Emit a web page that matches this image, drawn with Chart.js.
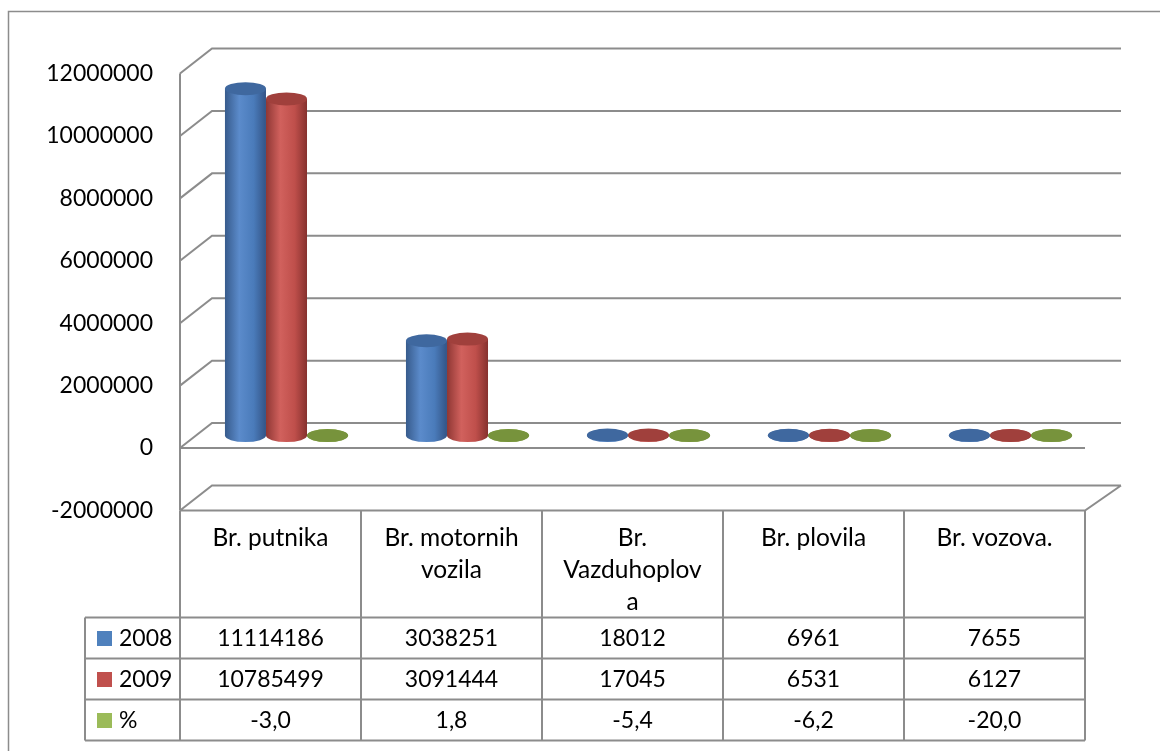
<!DOCTYPE html>
<html lang="sr">
<head>
<meta charset="UTF-8">
<title>Promet 2008 - 2009</title>
<script src="https://cdn.jsdelivr.net/npm/chart.js@4.4.3/dist/chart.umd.min.js"></script>
<style>
  html, body { margin: 0; padding: 0; background: #fff; }
  #wrap { width: 1160px; height: 751px; }
</style>
</head>
<body>
<div id="wrap"><canvas id="promet"></canvas></div>
<script>
// podaci
const kategorije = [['Br. putnika'], ['Br. motornih', 'vozila'], ['Br.', 'Vazduhoplov', 'a'], ['Br. plovila'], ['Br. vozova.']];
const serije = ['2008', '2009', '%'];
const god2008 = [11114186, 3038251, 18012, 6961, 7655];
const god2009 = [10785499, 3091444, 17045, 6531, 6127];
const procenat = [-3.0, 1.8, -5.4, -6.2, -20.0];
const yMin = -2000000, yMax = 12000000, yKorak = 2000000;

const boje = ['#4F81BD', '#C0504D', '#9BBB59'];
const bojeVrh = ['#3f689f', '#a0403c', '#77933c'];
const senke = [
  ['#375b8c', '#5b8bcb', '#4a7bba', '#335486'],
  ['#8f3734', '#d1615d', '#bf4f4b', '#86312e'],
  ['#6f8a36', '#aac96a', '#9bbb59', '#6a8533']
];
const SIVA = '#8c8c8c';
const DX = 16, DY = 12.5, RY = 6.5;
const FONT = '23px Lato';
const FONT_ZAGLAVLJE = '24.5px Lato';

function fmtPct(v) { return v.toFixed(1).replace('.', ','); }

function gradijent(ctx, el, i) {
  const g = ctx.createLinearGradient(el.x - el.width / 2, 0, el.x + el.width / 2, 0);
  const s = senke[i];
  g.addColorStop(0, s[0]);
  g.addColorStop(0.35, s[1]);
  g.addColorStop(0.7, s[2]);
  g.addColorStop(1, s[3]);
  return g;
}

// zidovi, valjci i tabela sa podacima
const prostor = {
  id: 'prostor',
  beforeDraw(chart) {
    const c = chart.ctx;
    c.save();
    c.fillStyle = '#fff';
    c.fillRect(0, 0, chart.width, chart.height);
    c.strokeStyle = SIVA;
    c.lineWidth = 1.5;
    c.strokeRect(8.5, 11.5, chart.width + 20, chart.height + 20);
    c.restore();
  },
  beforeDatasetsDraw(chart) {
    const { chartArea: a, scales: { x, y } } = chart;
    const c = chart.ctx;
    const fl = a.left - DX, bl = a.left + DX, fr = a.right - DX, br = a.right + DX + 4;
    c.save();
    c.strokeStyle = SIVA;
    c.lineWidth = 2;
    c.beginPath();
    y.ticks.forEach(t => {
      const py = y.getPixelForValue(t.value);
      c.moveTo(fl, py + DY); c.lineTo(bl, py - DY); c.lineTo(br, py - DY);
    });
    const yTop = y.getPixelForValue(yMax), yBot = y.getPixelForValue(yMin), y0 = y.getPixelForValue(0);
    c.moveTo(fl, yTop + DY); c.lineTo(fl, yBot + DY);
    c.moveTo(fl, y0 + DY); c.lineTo(fr, y0 + DY);
    c.moveTo(fl, yBot + DY); c.lineTo(fr, yBot + DY); c.lineTo(br, yBot - DY);
    c.stroke();
    c.restore();
  },
  beforeDatasetDraw(chart, args) {
    const c = chart.ctx, i = args.index;
    c.save();
    args.meta.data.forEach(el => {
      const g = gradijent(c, el, i);
      el.options = Object.assign({}, el.options, { backgroundColor: g });
      c.fillStyle = g;
      c.beginPath();
      c.ellipse(el.x, el.base, el.width / 2, RY, 0, 0, Math.PI * 2);
      c.fill();
    });
    c.restore();
  },
  afterDatasetDraw(chart, args) {
    const c = chart.ctx, i = args.index;
    c.save();
    c.fillStyle = bojeVrh[i];
    args.meta.data.forEach(el => {
      c.beginPath();
      c.ellipse(el.x, el.y, el.width / 2, RY, 0, 0, Math.PI * 2);
      c.fill();
    });
    c.restore();
  },
  afterDraw(chart) {
    const { chartArea: a, scales: { x, y } } = chart;
    const c = chart.ctx;
    const w = (a.right - a.left) / kategorije.length;
    const left = a.left - DX, right = a.right - DX;
    const top = y.getPixelForValue(yMin) + DY;
    const hdr = top + 107, rh = 41;
    const redovi = [god2008.map(String), god2009.map(String), procenat.map(fmtPct)];
    const labLeft = 85;
    c.save();
    c.strokeStyle = SIVA;
    c.lineWidth = 2;
    c.beginPath();
    // vertikale
    for (let k = 0; k <= kategorije.length; k++) {
      const px = left + k * w;
      c.moveTo(px, top); c.lineTo(px, hdr + 3 * rh);
    }
    c.moveTo(labLeft, hdr); c.lineTo(labLeft, hdr + 3 * rh);
    // horizontale
    for (let r = 0; r <= 3; r++) {
      c.moveTo(labLeft, hdr + r * rh); c.lineTo(right, hdr + r * rh);
    }
    c.stroke();

    c.fillStyle = '#000';
    c.textAlign = 'center';
    c.textBaseline = 'middle';
    kategorije.forEach((lines, k) => {
      const cx = x.getPixelForValue(k) - DX;
      c.font = FONT_ZAGLAVLJE;
      lines.forEach((t, j) => c.fillText(t, cx, top + 28 + j * 32));
      c.font = FONT;
      redovi.forEach((row, r) => c.fillText(row[k], cx, hdr + r * rh + rh / 2 + 1));
    });
    c.textAlign = 'left';
    c.font = FONT;
    serije.forEach((s, r) => {
      const cy = hdr + r * rh + rh / 2;
      c.fillStyle = boje[r];
      c.fillRect(97, cy - 7, 15, 15);
      c.fillStyle = '#000';
      c.fillText(s, 119, cy + 1);
    });
    c.restore();
  }
};

new Chart(document.getElementById('promet'), {
  type: 'bar',
  data: {
    labels: kategorije,
    datasets: [
      { label: serije[0], data: god2008, backgroundColor: boje[0] },
      { label: serije[1], data: god2009, backgroundColor: boje[1] },
      { label: serije[2], data: procenat, backgroundColor: boje[2] }
    ]
  },
  options: {
    responsive: true,
    maintainAspectRatio: false,
    animation: false,
    layout: { padding: { left: 0, top: 61, right: 59, bottom: 253 } },
    datasets: { bar: { categoryPercentage: 0.68, barPercentage: 1.0, borderWidth: 0 } },
    plugins: { legend: { display: false }, tooltip: { enabled: false } },
    scales: {
      x: { display: false },
      y: {
        min: yMin,
        max: yMax,
        afterFit(scale) { scale.width = 196; },
        border: { display: false },
        grid: { display: false, drawTicks: false, tickLength: 0 },
        ticks: {
          stepSize: yKorak,
          padding: 43,
          labelOffset: DY,
          color: '#000',
          font: { family: 'Lato', size: 23 },
          callback: v => String(v)
        }
      }
    }
  },
  plugins: [prostor]
});
</script>
</body>
</html>
